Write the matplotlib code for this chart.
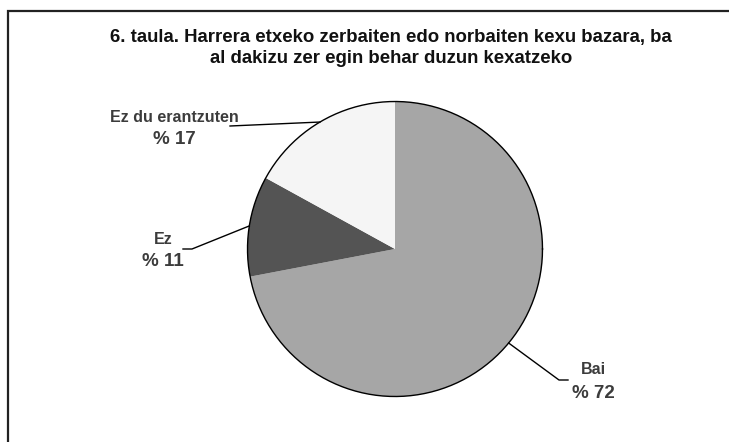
import numpy as np
import matplotlib
matplotlib.use("Agg")
import matplotlib.pyplot as plt

categories = ["Bai", "Ez", "Ez du erantzuten"]
values = [72, 11, 17]
pct_labels = ["% 72", "% 11", "% 17"]
colors = ["#a6a6a6", "#545454", "#f5f5f5"]
title = "6. taula. Harrera etxeko zerbaiten edo norbaiten kexu bazara, ba\nal dakizu zer egin behar duzun kexatzeko"

W, H = 729, 442
fig = plt.figure(figsize=(W / 100, H / 100), dpi=100)
ax = fig.add_axes([0, 0, 1, 1])

cx, cy, r = 395, H - 249, 147.5
wedges, _ = ax.pie(values, colors=colors, startangle=90, counterclock=False,
                   center=(cx, cy), radius=r, frame=True,
                   wedgeprops=dict(edgecolor="black", linewidth=0.9))
for w in wedges:
    w.set_edgecolor("none")
theta = np.linspace(0, 2 * np.pi, 400)
ax.plot(cx + r * np.cos(theta), cy + r * np.sin(theta), color="black", lw=1.0)
ax.set_xlim(0, W)
ax.set_ylim(0, H)
ax.axis("off")
ax.set_aspect("auto")

# label placements (pixel layout, y from top)
label_pos = {"Bai": (593, 369, 393), "Ez": (163, 240, 262), "Ez du erantzuten": (174, 117, 140)}
# leader line elbow points (pixel layout)
elbows = {"Bai": [(559, 380), (568, 380)], "Ez": [(192, 249), (183, 249)],
          "Ez du erantzuten": [(230, 126)]}

text_color = "#3c3c3c"
for w, cat, pl in zip(wedges, categories, pct_labels):
    mid = np.deg2rad((w.theta1 + w.theta2) / 2)
    px, py = cx + r * np.cos(mid), cy + r * np.sin(mid)
    xs = [px] + [e[0] for e in elbows[cat]]
    ys = [py] + [H - e[1] for e in elbows[cat]]
    ax.plot(xs, ys, color="black", lw=1.0)
    lx, ly1, ly2 = label_pos[cat]
    ax.text(lx, H - ly1, cat, ha="center", va="center", fontsize=11.5,
            fontweight="bold", color=text_color, family="Liberation Sans")
    ax.text(lx, H - ly2, pl, ha="center", va="center", fontsize=13.5,
            fontweight="bold", color=text_color, family="Liberation Sans")

ax.text(391, H - 48, title, ha="center", va="center", fontsize=13.4,
        fontweight="bold", color="#111111", family="Liberation Sans", linespacing=1.3)

# frame (partially cropped)
ax.plot([8.5, 8.5, W + 5], [-5, H - 10.5, H - 10.5], color="#222222", lw=1.6,
        solid_joinstyle="miter")

fig.savefig("out.png", dpi=100)
